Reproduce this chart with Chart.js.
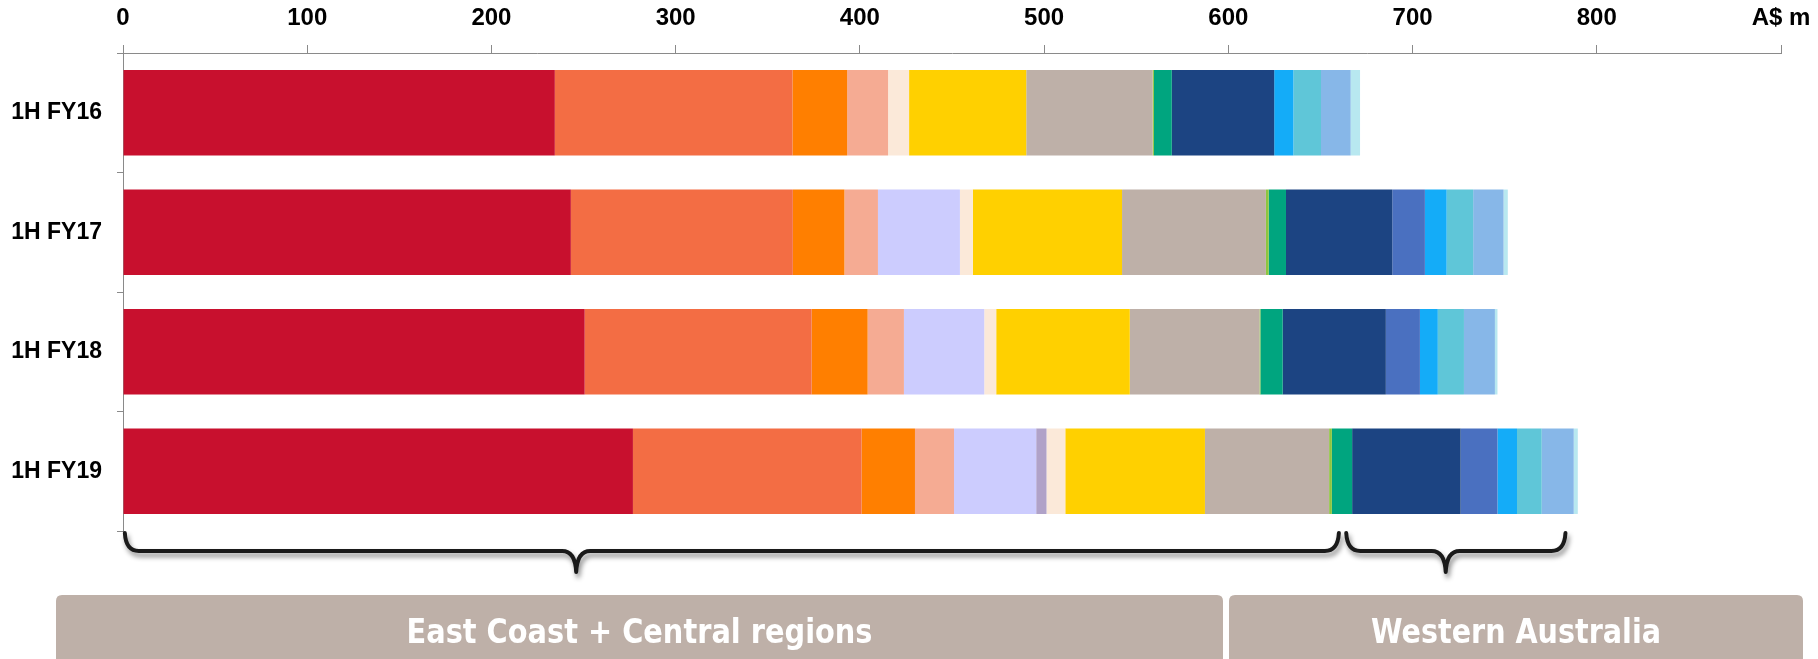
<!DOCTYPE html>
<html>
<head>
<meta charset="utf-8">
<script src="https://cdn.jsdelivr.net/npm/chart.js@4.4.1/dist/chart.umd.min.js"></script>
<style>
  html, body { margin: 0; padding: 0; background: #ffffff; overflow: hidden; }
  #wrap { width: 1818px; height: 659px; position: relative; }
</style>
</head>
<body>
<div id="wrap"><canvas id="chart"></canvas></div>
<script>
// Half-year periods (one horizontal bar each)
const periods = ['1H FY16', '1H FY17', '1H FY18', '1H FY19'];

// Axis: 0..800 in steps of 100, the unit sits at the end of the axis
const axisMax = 900;
const axisStep = 100;
const axisUnit = 'A$ m';

// Stacked segments, A$ m per period (left to right in each bar)
const crimson    = [234.4, 243.1, 250.6, 276.8];
const coral      = [129.0, 120.5, 123.2, 124.1];
const orange     = [29.7, 28.0, 30.4, 29.0];
const salmon     = [22.2, 18.2, 19.7, 21.2];
const lavender   = [0, 44.5, 43.6, 44.6];
const mauve      = [0, 0, 0, 5.6];
const cream      = [11.4, 7.0, 6.5, 10.2];
const gold       = [63.6, 81.0, 72.5, 75.8];
const taupe      = [68.6, 78.1, 70.4, 67.4];
const lime       = [0.7, 1.5, 0.5, 1.5];
const jade       = [9.7, 9.4, 12.1, 11.0];
const navy       = [55.6, 57.7, 56.0, 58.9];
const royal      = [0, 17.7, 18.5, 20.0];
const azure      = [10.4, 11.8, 9.7, 10.6];
const turquoise  = [15.0, 14.4, 14.2, 13.4];
const skyBlue    = [16.1, 16.5, 16.8, 17.4];
const iceBlue    = [5.1, 2.3, 1.4, 2.2];

// Regions grouped under the bars (spans in A$ m along the axis)
const regionNames = ['East Coast + Central regions', 'Western Australia'];
const regionFrom  = [1, 664];
const regionTo    = [660, 783];
const regionTip   = [246, 718];

const segments = [
  ['crimson', crimson, '#C8102E'],
  ['coral', coral, '#F36D44'],
  ['orange', orange, '#FF7F00'],
  ['salmon', salmon, '#F5AB93'],
  ['lavender', lavender, '#CCCCFE'],
  ['mauve', mauve, '#B0A2C8'],
  ['cream', cream, '#FBE9D9'],
  ['gold', gold, '#FFD000'],
  ['taupe', taupe, '#BEB0A8'],
  ['lime', lime, '#8DC63F'],
  ['jade', jade, '#00A57F'],
  ['navy', navy, '#1C4482'],
  ['royal', royal, '#4A70C0'],
  ['azure', azure, '#14ACF8'],
  ['turquoise', turquoise, '#5FC6D8'],
  ['skyBlue', skyBlue, '#87B7E8'],
  ['iceBlue', iceBlue, '#B8E8F0']
];

const datasets = segments.map(([name, values, color]) => ({
  label: name,
  data: values,
  backgroundColor: color,
  borderWidth: 0,
  categoryPercentage: 1,
  barPercentage: 0.715
}));

// Draws the curly braces and the region boxes under the plot
const regionPlugin = {
  id: 'regions',
  afterDraw(chart) {
    const ctx = chart.ctx;
    const xs = chart.scales.x;
    const area = chart.chartArea;
    const yt = area.bottom + 2;
    const ym = yt + 18;
    const yb = yt + 39;

    ctx.save();
    ctx.strokeStyle = '#1a1a1a';
    ctx.lineWidth = 4;
    ctx.lineCap = 'round';
    ctx.lineJoin = 'round';
    ctx.shadowColor = 'rgba(0,0,0,0.45)';
    ctx.shadowBlur = 5;
    ctx.shadowOffsetX = 2;
    ctx.shadowOffsetY = 4;
    for (let i = 0; i < regionNames.length; i++) {
      const x0 = xs.getPixelForValue(regionFrom[i]);
      const x1 = xs.getPixelForValue(regionTo[i]);
      const xc = xs.getPixelForValue(regionTip[i]);
      const r = 14;
      ctx.beginPath();
      ctx.moveTo(x0, yt);
      ctx.quadraticCurveTo(x0 + 1, ym, x0 + r, ym);
      ctx.lineTo(xc - r, ym);
      ctx.quadraticCurveTo(xc - 1, ym, xc, yb);
      ctx.quadraticCurveTo(xc + 1, ym, xc + r, ym);
      ctx.lineTo(x1 - r, ym);
      ctx.quadraticCurveTo(x1 - 1, ym, x1, yt);
      ctx.stroke();
    }
    ctx.restore();

    // Region boxes
    const boxLeft = [56, 1229];
    const boxRight = [1223, 1803];
    const boxTop = 595;
    const textWidth = [466, 290];
    ctx.save();
    for (let i = 0; i < regionNames.length; i++) {
      const l = boxLeft[i], rr = boxRight[i], rad = 6;
      ctx.fillStyle = '#BEB0A8';
      ctx.beginPath();
      ctx.moveTo(l, chart.height + 10);
      ctx.lineTo(l, boxTop + rad);
      ctx.quadraticCurveTo(l, boxTop, l + rad, boxTop);
      ctx.lineTo(rr - rad, boxTop);
      ctx.quadraticCurveTo(rr, boxTop, rr, boxTop + rad);
      ctx.lineTo(rr, chart.height + 10);
      ctx.closePath();
      ctx.fill();
      ctx.fillStyle = '#ffffff';
      ctx.font = 'bold 33px "DejaVu Sans", "Open Sans", sans-serif';
      ctx.textAlign = 'center';
      ctx.textBaseline = 'alphabetic';
      ctx.fillText(regionNames[i], (l + rr) / 2, 643, textWidth[i]);
    }
    ctx.restore();
  }
};

new Chart(document.getElementById('chart'), {
  type: 'bar',
  data: { labels: periods, datasets },
  plugins: [regionPlugin],
  options: {
    indexAxis: 'y',
    responsive: true,
    maintainAspectRatio: false,
    animation: false,
    devicePixelRatio: 1,
    layout: { padding: { top: 0, left: 0, right: 37, bottom: 128 } },
    plugins: { legend: { display: false }, tooltip: { enabled: false } },
    scales: {
      x: {
        type: 'linear',
        position: 'top',
        stacked: true,
        min: 0,
        max: axisMax,
        afterFit: s => { s.height = 53; s.paddingLeft = 0; s.paddingRight = 0; },
        afterBuildTicks: s => {
          const t = [];
          for (let v = 0; v <= axisMax; v += axisStep) t.push({ value: v });
          s.ticks = t;
        },
        ticks: {
          autoSkip: false,
          maxRotation: 0,
          padding: 12,
          color: '#000000',
          font: { family: '"Liberation Sans", Arial, sans-serif', weight: 'bold', size: 24 },
          callback: v => (v === axisMax ? axisUnit : String(v))
        },
        grid: { drawOnChartArea: false, drawTicks: true, tickLength: 8, color: '#8a8a8a', lineWidth: 1 },
        border: { color: '#8a8a8a', width: 1 }
      },
      y: {
        stacked: true,
        afterFit: s => { s.width = 123; },
        ticks: {
          padding: 15,
          color: '#000000',
          font: { family: '"Liberation Sans", Arial, sans-serif', weight: 'bold', size: 23 }
        },
        grid: { drawOnChartArea: false, drawTicks: true, tickLength: 6, color: '#8a8a8a', lineWidth: 1, offset: true },
        border: { color: '#8a8a8a', width: 1 }
      }
    }
  }
});
</script>
</body>
</html>
